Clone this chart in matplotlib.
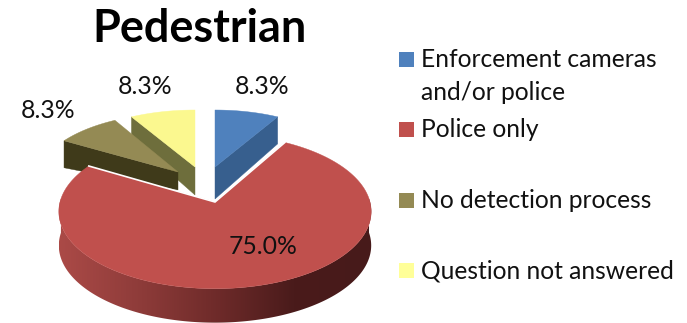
import numpy as np
import matplotlib
matplotlib.use("Agg")
import matplotlib.pyplot as plt
from matplotlib.colors import LinearSegmentedColormap
from matplotlib.patches import Polygon, Rectangle

# Survey results
title = "Pedestrian"
categories = ["Enforcement cameras\nand/or police", "Police only",
              "No detection process", "Question not answered"]
values = [8.3, 75.0, 8.3, 8.3]

top_colors = ["#4f81bd", "#c0504d", "#948a54", "#fbf88f"]
side_colors = ["#375f8e", "#8a3a38", "#3f3a1a", "#6e6e3c"]
legend_colors = ["#4f81bd", "#c0504d", "#948a54", "#ffff99"]

# Per-slice placement of the tilted disc:
# apex x, apex y, radius x, radius y, thickness at the apex, thickness at the rim
placement = [
    (215, 167, 139, 64, 32, 27),
    (215, 202, 155, 76, 34, 34),
    (178, 172, 140, 66, 18, 27),
    (195, 167, 141, 64, 28, 22),
]
label_positions = [(262, 86), (263, 246), (48, 111), (145, 86)]
legend_boxes = [52, 122, 193, 263]
legend_text_rows = [59.5, 129.5, 200.5, 270.5]
LEGEND_LINE_GAP = 33
TILT = 0.123

plt.rcParams["font.family"] = ["Lato", "DejaVu Sans"]
fig = plt.figure(figsize=(6.87, 3.23), dpi=100)
ax = fig.add_axes([0, 0, 1, 1])
ax.set_xlim(0, 687)
ax.set_ylim(323, 0)
ax.axis("off")

rim_shade = LinearSegmentedColormap.from_list(
    "rim", ["#ab4a47", "#8f3c3a", "#6f2b2a", "#4a1b1b", "#471a1a"])


def project(theta, place):
    """Map clockwise-from-north angles on the unit disc to the tilted view."""
    cx, cy, rx, ry = place[:4]
    X, Y = np.sin(theta), np.cos(theta)
    w = 1 + TILT * Y
    return cx + rx * X / w, cy - ry * Y / w


edges = np.concatenate([[0], np.cumsum(values)]) / sum(values) * 2 * np.pi
spans = list(zip(edges[:-1], edges[1:]))


def draw_slice(i, zorder):
    place = placement[i]
    cx, cy, _, _, apex_depth, rim_depth = place
    start, stop = spans[i]
    t = np.linspace(start, stop, 400)
    x, y = project(t, place)

    # Radial wall that faces the viewer on the pulled-out slices
    wall_end = {0: -1, 2: 0, 3: 0}.get(i)
    if wall_end is not None:
        wx, wy = x[wall_end], y[wall_end]
        ax.add_patch(Polygon(
            [(wx, wy), (cx, cy), (cx, cy + apex_depth), (wx, wy + rim_depth)],
            closed=True, fc=side_colors[i], ec=side_colors[i], lw=0.3, zorder=zorder))

    # Outer rim with a left-to-right shading
    if i == 1:
        front = t[(t > np.pi / 2 - 0.05) & (t < 3 * np.pi / 2 + 0.05)]
        fx, fy = project(front, place)
        outline = np.vstack([np.column_stack([fx, fy]),
                             np.column_stack([fx, fy + rim_depth])[::-1]])
        clip = Polygon(outline, closed=True, fc="none", ec="none",
                       transform=ax.transData, zorder=zorder)
        ax.add_patch(clip)
        extent = (fx.min(), fx.max(), fy.max() + rim_depth, fy.min())
        img = ax.imshow(np.linspace(0, 1, 256)[None, :], cmap=rim_shade, aspect="auto",
                        extent=extent, zorder=zorder, interpolation="bilinear")
        img.set_clip_path(clip)
        ax.set_xlim(0, 687)
        ax.set_ylim(323, 0)

    # Top surface
    ax.add_patch(Polygon(np.column_stack([np.r_[cx, x], np.r_[cy, y]]), closed=True,
                         fc=top_colors[i], ec=top_colors[i], lw=0.3, zorder=zorder + 0.1))
    if i == 1:
        # Thin light line along the two cut edges of the large slice
        ax.plot([x[0], cx, x[-1]], [y[0], cy, y[-1]], color="white", lw=1.2,
                solid_joinstyle="miter", zorder=zorder + 0.2)


for order, idx in enumerate([3, 2, 0, 1]):
    draw_slice(idx, 2 + order)

for (lx, ly), v in zip(label_positions, values):
    ax.text(lx, ly, f"{v:.1f}%", ha="center", va="center", fontsize=17.8,
            color="#111111", zorder=10)

ax.text(199, 29, title, ha="center", va="center", fontsize=32.4, fontweight="bold",
        color="black", zorder=10)

for box_y, text_y, name, color in zip(legend_boxes, legend_text_rows, categories, legend_colors):
    ax.add_patch(Rectangle((399, box_y), 15, 15, fc=color, ec="none", zorder=5))
    for line_no, line in enumerate(name.split("\n")):
        ax.text(421, text_y + line_no * LEGEND_LINE_GAP, line, ha="left", va="center",
                fontsize=17.7, color="#111111", zorder=10)

fig.savefig("out.png", dpi=100, facecolor="white")
